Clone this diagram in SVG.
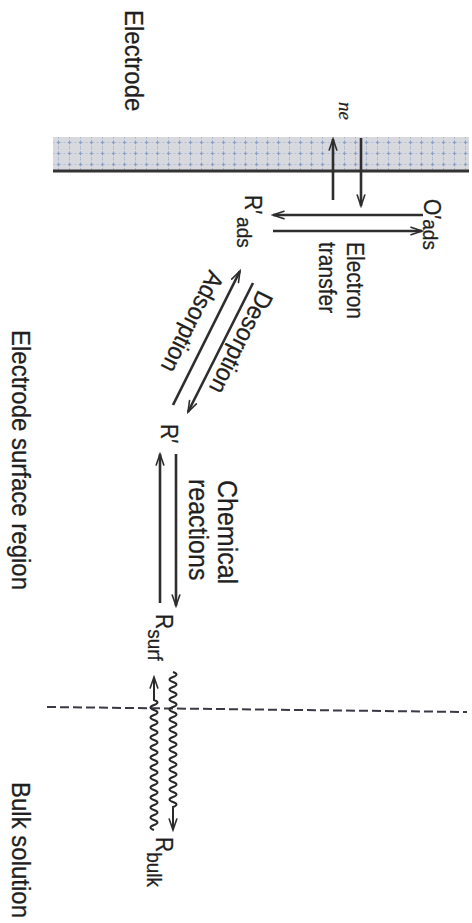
<svg xmlns="http://www.w3.org/2000/svg" width="472" height="923" viewBox="0 0 472 923">
  <style>
    text { font-family: "Liberation Sans", Arial, sans-serif; fill: #1f1f1f; stroke: #1f1f1f; stroke-width: 0.25; }
    .big { font-size: 24px; }
    .lbl { font-size: 21px; }
    .ne { font-family: "Liberation Serif", "Times New Roman", serif; font-style: italic; font-size: 19px; }
    .shaft { stroke: #2e2e2e; stroke-width: 2.6; fill: none; }
    .wave { stroke: #2a2a2a; stroke-width: 2; fill: none; }
  </style>
  <defs>
    <marker id="head" viewBox="-12 -6 14 12" markerWidth="14" markerHeight="12" refX="0" refY="0" orient="auto" markerUnits="userSpaceOnUse">
      <path d="M-11,-3.8 L0,0 L-11,3.8" fill="none" stroke="#2e2e2e" stroke-width="1.6" stroke-linecap="round"/>
    </marker>
    <pattern id="mesh" width="11" height="11" patternUnits="userSpaceOnUse" x="53" y="137">
      <rect width="11" height="11" fill="#d8d9de"/>
      <path d="M5.5,0 V11" stroke="#9aaccc" stroke-width="0.8" stroke-dasharray="1.5 1.5"/>
      <path d="M0,5.5 H11" stroke="#a8b7d3" stroke-width="0.8" stroke-dasharray="1.5 2"/>
      <circle cx="5.5" cy="5.5" r="1.2" fill="#8299c4"/>
    </pattern>
  </defs>

  <!-- electrode slab -->
  <g id="electrode">
    <rect x="53" y="137" width="416" height="34" fill="url(#mesh)"/>
    <line x1="53" y1="171" x2="469" y2="171" stroke="#333" stroke-width="3"/>
    <text class="big" transform="translate(125,10) rotate(90) scale(1,1.08)">Electrode</text>
  </g>

  <!-- region labels -->
  <g id="region-labels">
    <text class="big" transform="translate(12,330) rotate(90) scale(1,1.1)">Electrode surface region</text>
    <text class="big" transform="translate(12,782) rotate(90) scale(1,1.1)">Bulk solution</text>
  </g>

  <!-- boundary between surface region and bulk -->
  <g id="boundary">
    <line x1="47" y1="707" x2="467" y2="712" stroke="#3a3a46" stroke-width="2" stroke-dasharray="9 4"/>
  </g>

  <!-- species -->
  <g id="O-ads">
    <text class="lbl" transform="translate(424,199) rotate(90) scale(1,1.1)">O′<tspan dy="1" font-size="19">ads</tspan></text>
  </g>
  <g id="R-ads">
    <text class="lbl" transform="translate(245,195) rotate(90) scale(1,1.1)">R′<tspan dx="3" dy="7" font-size="19">ads</tspan></text>
  </g>
  <g id="R-prime">
    <text class="lbl" transform="translate(161,424) rotate(90) scale(1,1.1)">R′</text>
  </g>
  <g id="R-surf">
    <text class="lbl" transform="translate(156,614) rotate(90) scale(1,1.1)">R<tspan dy="7" font-size="19">surf</tspan></text>
  </g>
  <g id="R-bulk">
    <text class="lbl" transform="translate(156,837) rotate(90) scale(1,1.1)">R<tspan dy="8" font-size="19">bulk</tspan></text>
  </g>

  <!-- step labels -->
  <g id="step-labels">
    <text class="ne" transform="translate(339,102) rotate(90)">ne</text>
    <text class="lbl" transform="translate(347,242) rotate(90) scale(1,1.1)">Electron</text>
    <text class="lbl" transform="translate(319,242) rotate(90) scale(1,1.1)">transfer</text>
    <text class="lbl" style="font-size:23px" transform="translate(258.5,289) rotate(116.7) scale(1,1.08)">Desorption</text>
    <text class="lbl" style="font-size:23px" transform="translate(209.6,269) rotate(116.7) scale(1,1.08)">Adsorption</text>
    <text class="lbl" style="font-size:25px" transform="translate(218,480) rotate(90) scale(1,1.1)">Chemical</text>
    <text class="lbl" style="font-size:25px" transform="translate(189,479) rotate(90) scale(1,1.1)">reactions</text>
  </g>

  <!-- connectors -->
  <g id="connectors">
    <!-- electrons to/from electrode -->
    <line class="shaft" x1="333" y1="200" x2="333" y2="139" marker-end="url(#head)"/>
    <line class="shaft" x1="361" y1="138" x2="361" y2="206" marker-end="url(#head)"/>
    <!-- electron transfer -->
    <line class="shaft" x1="423" y1="215" x2="273" y2="215" marker-end="url(#head)"/>
    <line class="shaft" x1="273" y1="231" x2="422" y2="231" marker-end="url(#head)"/>
    <!-- adsorption / desorption -->
    <line class="shaft" x1="173" y1="405" x2="240" y2="271" marker-end="url(#head)"/>
    <line class="shaft" x1="253" y1="283" x2="188" y2="412" marker-end="url(#head)"/>
    <!-- chemical reactions -->
    <line class="shaft" x1="160" y1="603" x2="160" y2="454" marker-end="url(#head)"/>
    <line class="shaft" x1="176" y1="454" x2="176" y2="606" marker-end="url(#head)"/>
    <!-- diffusion, bulk to surface -->
    <path class="wave" d="M154,830 q-7,-2.5 0,-5 t0,-5 t0,-5 t0,-5 t0,-5 t0,-5 t0,-5 t0,-5 t0,-5 t0,-5 t0,-5 t0,-5 t0,-5 t0,-5 t0,-5 t0,-5 t0,-5 t0,-5 t0,-5 t0,-5 t0,-5 t0,-5 t0,-5 t0,-5 t0,-5 t0,-5 L154,677" marker-end="url(#head)"/>
    <!-- diffusion, surface to bulk -->
    <path class="wave" d="M173,672 q7,2.5 0,5 t0,5 t0,5 t0,5 t0,5 t0,5 t0,5 t0,5 t0,5 t0,5 t0,5 t0,5 t0,5 t0,5 t0,5 t0,5 t0,5 t0,5 t0,5 t0,5 t0,5 t0,5 t0,5 t0,5 t0,5 t0,5 t0,5 L173,830" marker-end="url(#head)"/>
  </g>
</svg>
